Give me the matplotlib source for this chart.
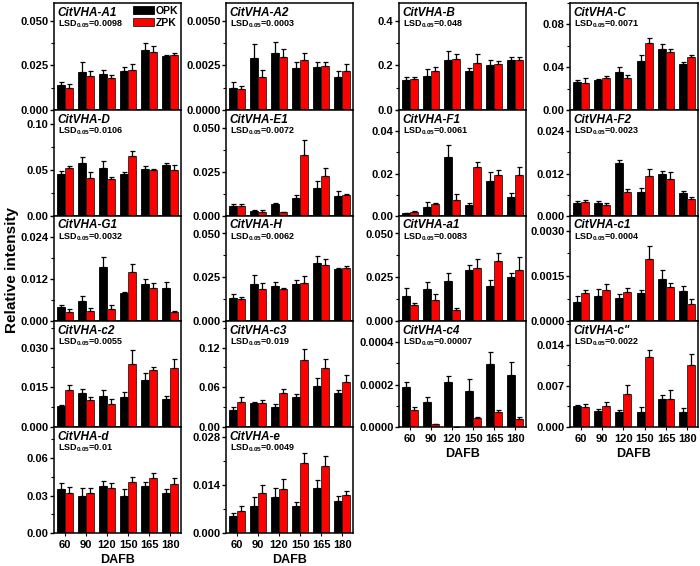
import numpy as np
import matplotlib
matplotlib.use('Agg')
from matplotlib import pyplot as plt
from matplotlib.ticker import AutoMinorLocator, FormatStrFormatter

plt.rcParams['font.family'] = ['Liberation Sans', 'DejaVu Sans']
plt.rcParams['font.weight'] = 'bold'
plt.rcParams['mathtext.default'] = 'regular'

days = ['60', '90', '120', '150', '165', '180']

# bar heights and upper error (SD) for each gene
A1_OPK = [0.0139, 0.0214, 0.0202, 0.0216, 0.0334, 0.0302]
A1_OPK_SD = [0.0019, 0.0053, 0.0025, 0.0024, 0.0044, 0.0009]
A1_ZPK = [0.0126, 0.0191, 0.0181, 0.0225, 0.0326, 0.0309]
A1_ZPK_SD = [0.0021, 0.0030, 0.0014, 0.0033, 0.0031, 0.0010]

A2_OPK = [0.00126, 0.00292, 0.00317, 0.00233, 0.00239, 0.00187]
A2_OPK_SD = [0.0003, 0.0008, 0.00063, 0.00034, 0.00028, 0.00032]
A2_ZPK = [0.00115, 0.00185, 0.00296, 0.00279, 0.00244, 0.00218]
A2_ZPK_SD = [0.00019, 0.00042, 0.00044, 0.00038, 0.00023, 0.0004]

B_OPK = [0.133, 0.154, 0.224, 0.176, 0.200, 0.224]
B_OPK_SD = [0.017, 0.029, 0.040, 0.012, 0.026, 0.014]
B_ZPK = [0.139, 0.176, 0.230, 0.211, 0.208, 0.224]
B_ZPK_SD = [0.008, 0.015, 0.022, 0.041, 0.010, 0.014]

C_OPK = [0.026, 0.028, 0.0353, 0.0456, 0.0566, 0.043]
C_OPK_SD = [0.002, 0.001, 0.0047, 0.006, 0.005, 0.0017]
C_ZPK = [0.0256, 0.030, 0.030, 0.063, 0.054, 0.050]
C_ZPK_SD = [0.0041, 0.002, 0.003, 0.0045, 0.003, 0.0016]

D_OPK = [0.0453, 0.058, 0.052, 0.0453, 0.0507, 0.0558]
D_OPK_SD = [0.0037, 0.006, 0.0075, 0.0027, 0.0033, 0.0022]
D_ZPK = [0.052, 0.041, 0.040, 0.0646, 0.0496, 0.0496]
D_ZPK_SD = [0.002, 0.0064, 0.0027, 0.0054, 0.0011, 0.0062]

E1_OPK = [0.0054, 0.003, 0.0067, 0.010, 0.0157, 0.0115]
E1_OPK_SD = [0.0013, 0.0006, 0.0006, 0.0019, 0.0041, 0.0024]
E1_ZPK = [0.0058, 0.0024, 0.002, 0.0343, 0.0226, 0.0119]
E1_ZPK_SD = [0.0011, 0.0008, 0.0004, 0.0088, 0.0044, 0.0004]

F1_OPK = [0.0012, 0.0044, 0.0277, 0.0051, 0.0165, 0.009]
F1_OPK_SD = [0.0004, 0.0021, 0.0058, 0.0009, 0.0043, 0.0017]
F1_ZPK = [0.0017, 0.0056, 0.0077, 0.0233, 0.0194, 0.0194]
F1_ZPK_SD = [0.0007, 0.0004, 0.0025, 0.0022, 0.0022, 0.0039]

F2_OPK = [0.0036, 0.0038, 0.015, 0.0069, 0.0119, 0.0065]
F2_OPK_SD = [0.0006, 0.0005, 0.0009, 0.0009, 0.0008, 0.0007]
F2_ZPK = [0.004, 0.0031, 0.0069, 0.0114, 0.0104, 0.0048]
F2_ZPK_SD = [0.0005, 0.0005, 0.0008, 0.0019, 0.0021, 0.0007]

G1_OPK = [0.004, 0.0057, 0.0154, 0.0079, 0.0105, 0.0093]
G1_OPK_SD = [0.0006, 0.0014, 0.0028, 0.0004, 0.0014, 0.0019]
G1_ZPK = [0.0026, 0.0028, 0.0033, 0.014, 0.0095, 0.0026]
G1_ZPK_SD = [0.0007, 0.001, 0.0012, 0.0023, 0.0015, 0.0004]

H_OPK = [0.0131, 0.0212, 0.0198, 0.0212, 0.0329, 0.0296]
H_OPK_SD = [0.0023, 0.0053, 0.0025, 0.0023, 0.0044, 0.0008]
H_ZPK = [0.0125, 0.0183, 0.0181, 0.0219, 0.0321, 0.0302]
H_ZPK_SD = [0.0015, 0.0036, 0.0009, 0.0037, 0.0035, 0.0011]

a1_OPK = [0.0144, 0.0183, 0.0227, 0.0294, 0.0202, 0.025]
a1_OPK_SD = [0.0043, 0.0038, 0.0046, 0.0027, 0.0033, 0.0023]
a1_ZPK = [0.009, 0.0121, 0.0065, 0.0304, 0.0342, 0.0294]
a1_ZPK_SD = [0.0014, 0.0033, 0.0008, 0.0052, 0.0046, 0.0071]

c1_OPK = [0.00065, 0.00082, 0.00077, 0.00094, 0.0014, 0.001]
c1_OPK_SD = [0.00017, 0.00025, 0.00014, 0.00011, 0.0003, 0.00016]
c1_ZPK = [0.00094, 0.00103, 0.00096, 0.00206, 0.00113, 0.00058]
c1_ZPK_SD = [0.00011, 0.00019, 0.00015, 0.00044, 0.00014, 0.00015]

c2_OPK = [0.008, 0.013, 0.0117, 0.0113, 0.0177, 0.0105]
c2_OPK_SD = [0.0003, 0.0012, 0.0021, 0.0019, 0.0026, 0.0012]
c2_ZPK = [0.0138, 0.0102, 0.0085, 0.0236, 0.0215, 0.0221]
c2_ZPK_SD = [0.0019, 0.001, 0.0019, 0.0055, 0.001, 0.0035]

c3_OPK = [0.0258, 0.036, 0.030, 0.0446, 0.0623, 0.0516]
c3_OPK_SD = [0.0046, 0.0015, 0.0054, 0.0054, 0.0121, 0.0046]
c3_ZPK = [0.038, 0.0365, 0.0516, 0.1018, 0.0891, 0.0684]
c3_ZPK_SD = [0.007, 0.004, 0.0051, 0.0157, 0.0142, 0.0106]

c4_OPK = [0.000189, 0.000116, 0.00021, 0.000171, 0.000298, 0.000246]
c4_OPK_SD = [0.000025, 0.000024, 0.00003, 0.000054, 0.000058, 0.000059]
c4_ZPK = [0.0000825, 0.0000127, 0.0, 0.0000444, 0.0000698, 0.0000397]
c4_ZPK_SD = [0.0000125, 0.000003, 0.0, 0.000003, 0.000009, 0.000008]

cpp_OPK = [0.00356, 0.00271, 0.00248, 0.0026, 0.00469, 0.00248]
cpp_OPK_SD = [0.00017, 0.00039, 0.00034, 0.00073, 0.00079, 0.00068]
cpp_ZPK = [0.00339, 0.00356, 0.00559, 0.01185, 0.0048, 0.01056]
cpp_ZPK_SD = [0.00051, 0.00067, 0.00147, 0.00125, 0.00147, 0.0018]

d_OPK = [0.035, 0.030, 0.038, 0.030, 0.038, 0.032]
d_OPK_SD = [0.005, 0.006, 0.004, 0.005, 0.003, 0.003]
d_ZPK = [0.032, 0.032, 0.036, 0.041, 0.044, 0.039]
d_ZPK_SD = [0.005, 0.004, 0.004, 0.004, 0.004, 0.005]

e_OPK = [0.005, 0.0079, 0.0105, 0.0079, 0.0131, 0.0093]
e_OPK_SD = [0.0008, 0.0026, 0.0026, 0.0011, 0.0024, 0.0015]
e_ZPK = [0.0064, 0.0117, 0.0128, 0.0204, 0.0195, 0.0111]
e_ZPK_SD = [0.0015, 0.0023, 0.0029, 0.0029, 0.0029, 0.0011]

# name, lsd, col, row, ymax, ticks, format, data
panels = [
    ('A1', '0.0098', 0, 0, 0.06, [0, 0.025, 0.05], '%.3f', A1_OPK, A1_OPK_SD, A1_ZPK, A1_ZPK_SD),
    ('D', '0.0106', 0, 1, 0.115, [0, 0.05, 0.10], '%.2f', D_OPK, D_OPK_SD, D_ZPK, D_ZPK_SD),
    ('G1', '0.0032', 0, 2, 0.03, [0, 0.012, 0.024], '%.3f', G1_OPK, G1_OPK_SD, G1_ZPK, G1_ZPK_SD),
    ('c2', '0.0055', 0, 3, 0.04, [0, 0.015, 0.03], '%.3f', c2_OPK, c2_OPK_SD, c2_ZPK, c2_ZPK_SD),
    ('d', '0.01', 0, 4, 0.085, [0, 0.03, 0.06], '%.2f', d_OPK, d_OPK_SD, d_ZPK, d_ZPK_SD),
    ('A2', '0.0003', 1, 0, 0.006, [0, 0.0025, 0.005], '%.4f', A2_OPK, A2_OPK_SD, A2_ZPK, A2_ZPK_SD),
    ('E1', '0.0072', 1, 1, 0.06, [0, 0.025, 0.05], '%.3f', E1_OPK, E1_OPK_SD, E1_ZPK, E1_ZPK_SD),
    ('H', '0.0062', 1, 2, 0.06, [0, 0.025, 0.05], '%.3f', H_OPK, H_OPK_SD, H_ZPK, H_ZPK_SD),
    ('c3', '0.019', 1, 3, 0.16, [0, 0.06, 0.12], '%.2f', c3_OPK, c3_OPK_SD, c3_ZPK, c3_ZPK_SD),
    ('e', '0.0049', 1, 4, 0.031, [0, 0.014, 0.028], '%.3f', e_OPK, e_OPK_SD, e_ZPK, e_ZPK_SD),
    ('B', '0.048', 2, 0, 0.48, [0, 0.2, 0.4], '%.1f', B_OPK, B_OPK_SD, B_ZPK, B_ZPK_SD),
    ('F1', '0.0061', 2, 1, 0.05, [0, 0.02, 0.04], '%.2f', F1_OPK, F1_OPK_SD, F1_ZPK, F1_ZPK_SD),
    ('a1', '0.0083', 2, 2, 0.06, [0, 0.025, 0.05], '%.3f', a1_OPK, a1_OPK_SD, a1_ZPK, a1_ZPK_SD),
    ('c4', '0.00007', 2, 3, 0.0005, [0, 0.0002, 0.0004], '%.4f', c4_OPK, c4_OPK_SD, c4_ZPK, c4_ZPK_SD),
    ('C', '0.0071', 3, 0, 0.1, [0, 0.04, 0.08], '%.2f', C_OPK, C_OPK_SD, C_ZPK, C_ZPK_SD),
    ('F2', '0.0023', 3, 1, 0.03, [0, 0.012, 0.024], '%.3f', F2_OPK, F2_OPK_SD, F2_ZPK, F2_ZPK_SD),
    ('c1', '0.0004', 3, 2, 0.0035, [0, 0.0015, 0.003], '%.4f', c1_OPK, c1_OPK_SD, c1_ZPK, c1_ZPK_SD),
    ('c"', '0.0022', 3, 3, 0.018, [0, 0.007, 0.014], '%.3f', cpp_OPK, cpp_OPK_SD, cpp_ZPK, cpp_ZPK_SD),
]

W, Hpx = 700, 566
fig = plt.figure(figsize=(7, 5.66), dpi=100)

col_left = [54, 226, 399, 570]
col_width = [127, 127, 127, 128]
row_edges = [3, 110, 216, 321, 427, 533]
last_row = [4, 4, 3, 3]

x = np.arange(len(days))
w = 0.38

for name, lsd, col, row, ymax, ticks, fmt, opk, opk_sd, zpk, zpk_sd in panels:
    top = row_edges[row]
    bot = row_edges[row + 1]
    ax = fig.add_axes([col_left[col] / W, 1 - bot / Hpx, col_width[col] / W, (bot - top) / Hpx])
    ax.bar(x - w / 2, opk, w, color='black', edgecolor='black', linewidth=0.6, label='OPK')
    ax.bar(x + w / 2, zpk, w, color='#ff0000', edgecolor='#222222', linewidth=0.6, label='ZPK')
    ax.errorbar(x - w / 2, opk, yerr=[np.zeros(len(opk)), opk_sd], fmt='none',
                ecolor='black', elinewidth=0.9, capsize=1.8, capthick=0.9)
    ax.errorbar(x + w / 2, zpk, yerr=[np.zeros(len(zpk)), zpk_sd], fmt='none',
                ecolor='black', elinewidth=0.9, capsize=1.8, capthick=0.9)
    ax.set_xlim(-0.5, 5.5)
    ax.set_ylim(0, ymax)
    ax.set_yticks(ticks)
    ax.yaxis.set_major_formatter(FormatStrFormatter(fmt))
    ax.yaxis.set_minor_locator(AutoMinorLocator(2))
    ax.tick_params(axis='y', which='major', direction='out', length=3, width=1, labelsize=8, pad=1)
    ax.tick_params(axis='y', which='minor', direction='out', length=2, width=0.8)
    for s in ax.spines.values():
        s.set_linewidth(1.1)
    ax.set_xticks(x)
    if row == last_row[col]:
        ax.set_xticklabels(days)
        ax.tick_params(axis='x', direction='out', length=2, labelsize=8, pad=3)
        ax.set_xlabel('DAFB', fontsize=9, fontweight='bold', labelpad=3)
    else:
        ax.set_xticklabels([])
        ax.tick_params(axis='x', length=0)
    ax.text(0.03, 0.91, 'CitVHA-' + name, transform=ax.transAxes, fontsize=8.5,
            fontweight='bold', fontstyle='italic', va='center', ha='left')
    ax.text(0.03, 0.80, r'LSD$_{0.05}$=' + lsd, transform=ax.transAxes, fontsize=6.5,
            fontweight='bold', va='center', ha='left')
    if name == 'A1':
        ax.legend(loc='upper right', frameon=False, fontsize=7.5, handlelength=2.0,
                  handleheight=0.9, handletextpad=0.2, labelspacing=0.2,
                  borderaxespad=0.15, borderpad=0.1)

fig.text(12 / W, 1 - 270 / Hpx, 'Relative intensity', rotation=90, fontsize=11,
         fontweight='bold', ha='center', va='center')

fig.savefig('out.png', dpi=100)
